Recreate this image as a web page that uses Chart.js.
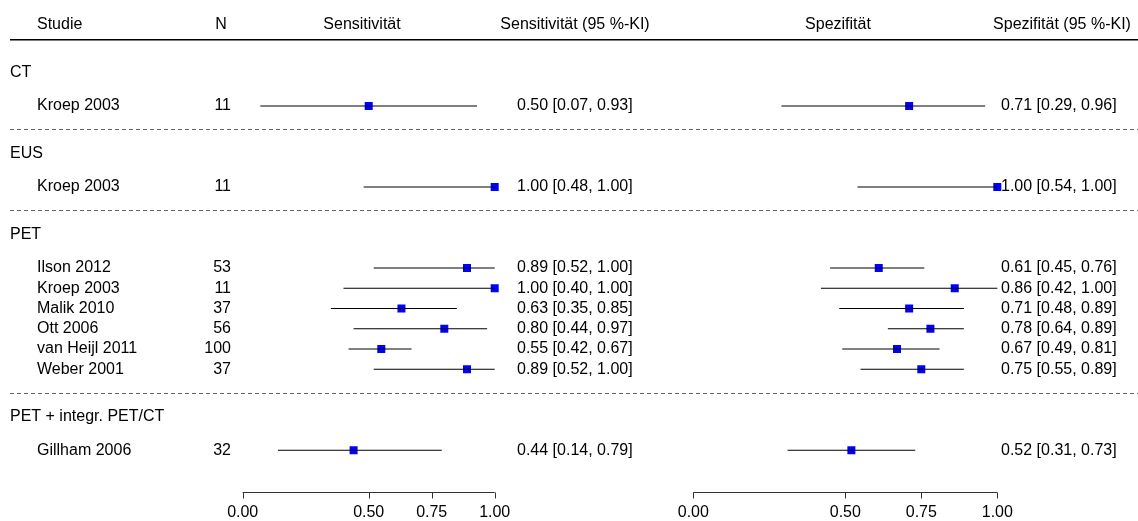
<!DOCTYPE html>
<html><head><meta charset="utf-8">
<script src="https://cdn.jsdelivr.net/npm/chart.js@4/dist/chart.umd.min.js"></script>
<style>html,body{margin:0;padding:0;background:#fff;overflow:hidden}#wrap{width:1138px;height:521px;position:relative}canvas{display:block}</style>
</head><body><div id="wrap"><canvas id="c" width="1138" height="521"></canvas></div>
<script>
// ---- data ----
const groupNames = ['CT', 'EUS', 'PET', 'PET + integr. PET/CT'];
const studyGroup = [0, 1, 2, 2, 2, 2, 2, 2, 3];
const studies = ['Kroep 2003', 'Kroep 2003', 'Ilson 2012', 'Kroep 2003', 'Malik 2010', 'Ott 2006', 'van Heijl 2011', 'Weber 2001', 'Gillham 2006'];
const nValues = [11, 11, 53, 11, 37, 56, 100, 37, 32];
const sens   = [0.50, 1.00, 0.89, 1.00, 0.63, 0.80, 0.55, 0.89, 0.44];
const sensLo = [0.07, 0.48, 0.52, 0.40, 0.35, 0.44, 0.42, 0.52, 0.14];
const sensHi = [0.93, 1.00, 1.00, 1.00, 0.85, 0.97, 0.67, 1.00, 0.79];
const spec   = [0.71, 1.00, 0.61, 0.86, 0.71, 0.78, 0.67, 0.75, 0.52];
const specLo = [0.29, 0.54, 0.45, 0.42, 0.48, 0.64, 0.49, 0.55, 0.31];
const specHi = [0.96, 1.00, 0.76, 1.00, 0.89, 0.89, 0.81, 0.89, 0.73];
const axisTicks = [0, 0.5, 0.75, 1];
const axisTickLabels = ['0.00', '0.50', '0.75', '1.00'];
const headers = ['Studie', 'N', 'Sensitivität', 'Sensitivität (95 %-KI)', 'Spezifität', 'Spezifität (95 %-KI)'];

// ---- layout (row units) ----
const GROUP_STEP = 4, LABEL_OFF = 1.65, DASH_OFF = 1.15, HLINE_OFF = 1.62, HTEXT_OFF = 2.35, AXIS_OFF = 2.05, TICKLBL_OFF = 3.1;
const ROW_PX = 20.25, FIRST_PX = 106;
const COL = {group: 10, study: 37, nRight: 231, nHead: 221, sensHead: 362, sensCIHead: 575, sensVal: 517, specHead: 838, specCIHead: 1062, specVal: 1001, lineL: 10, lineR: 1138};
const FONT = '16px "Liberation Sans", Arial, sans-serif';

const rows = [];
let u = 0;
studyGroup.forEach((g, i) => { if (i > 0) u += (g !== studyGroup[i - 1]) ? GROUP_STEP : 1; rows.push(u); });
const groupFirst = groupNames.map((_, g) => rows[studyGroup.indexOf(g)]);
const groupLast = groupNames.map((_, g) => rows[studyGroup.lastIndexOf(g)]);
const lastRow = rows[rows.length - 1];

const fmt = (v, lo, hi) => v.toFixed(2) + ' [' + lo.toFixed(2) + ', ' + hi.toFixed(2) + ']';

const datasets = [];
studies.forEach((s, i) => {
  datasets.push({data: [{x: sensLo[i], y: rows[i]}, {x: sensHi[i], y: rows[i]}], xAxisID: 'xs', showLine: true, borderColor: '#000', borderWidth: 1, pointRadius: 0});
  datasets.push({data: [{x: specLo[i], y: rows[i]}, {x: specHi[i], y: rows[i]}], xAxisID: 'xp', showLine: true, borderColor: '#000', borderWidth: 1, pointRadius: 0});
});
datasets.push({data: sens.map((v, i) => ({x: v, y: rows[i]})), xAxisID: 'xs', pointStyle: 'rect', pointRadius: 5.66, backgroundColor: '#0000ff', borderWidth: 0, showLine: false});
datasets.push({data: spec.map((v, i) => ({x: v, y: rows[i]})), xAxisID: 'xp', pointStyle: 'rect', pointRadius: 5.66, backgroundColor: '#0000ff', borderWidth: 0, showLine: false});

const W = 1138, H = 521;
const yMin = -FIRST_PX / ROW_PX, yMax = yMin + H / ROW_PX;
const sensPx0 = 242.7, sensPx1 = 494.7, specPx0 = 693.3, specPx1 = 997.3;
const sW = sensPx1 - sensPx0, pW = specPx1 - specPx0;

const decor = {
  id: 'decor',
  afterDatasetsDraw(chart) {
    const ctx = chart.ctx, ys = chart.scales.y, xs = chart.scales.xs, xp = chart.scales.xp;
    const Y = v => ys.getPixelForValue(v);
    ctx.save();
    ctx.font = FONT; ctx.fillStyle = '#000'; ctx.textBaseline = 'middle';
    // headers
    const hy = Y(groupFirst[0] - LABEL_OFF - HTEXT_OFF);
    ctx.textAlign = 'left'; ctx.fillText(headers[0], COL.study, hy);
    ctx.textAlign = 'center';
    ctx.fillText(headers[1], COL.nHead, hy);
    ctx.fillText(headers[2], COL.sensHead, hy);
    ctx.fillText(headers[3], COL.sensCIHead, hy);
    ctx.fillText(headers[4], COL.specHead, hy);
    ctx.fillText(headers[5], COL.specCIHead, hy);
    // header line
    const hl = Y(groupFirst[0] - LABEL_OFF - HLINE_OFF);
    ctx.strokeStyle = '#000'; ctx.lineWidth = 1.5;
    ctx.beginPath(); ctx.moveTo(COL.lineL, hl); ctx.lineTo(COL.lineR, hl); ctx.stroke();
    // group labels and dashed separators
    ctx.textAlign = 'left';
    groupNames.forEach((g, k) => {
      ctx.fillText(g, COL.group, Y(groupFirst[k] - LABEL_OFF));
      if (k < groupNames.length - 1) {
        const dy = Math.round(Y(groupLast[k] + DASH_OFF)) + 0.5;
        ctx.save(); ctx.strokeStyle = '#666'; ctx.lineWidth = 1; ctx.setLineDash([4, 3]);
        ctx.beginPath(); ctx.moveTo(COL.lineL, dy); ctx.lineTo(COL.lineR, dy); ctx.stroke(); ctx.restore();
      }
    });
    // study rows
    studies.forEach((s, i) => {
      const y = Y(rows[i]);
      ctx.textAlign = 'left'; ctx.fillText(s, COL.study, y);
      ctx.textAlign = 'right'; ctx.fillText(String(nValues[i]), COL.nRight, y);
      ctx.textAlign = 'left';
      ctx.fillText(fmt(sens[i], sensLo[i], sensHi[i]), COL.sensVal, y);
      ctx.fillText(fmt(spec[i], specLo[i], specHi[i]), COL.specVal, y);
    });
    // axes
    const ay = Math.round(Y(lastRow + AXIS_OFF)) + 0.5, ty = Y(lastRow + TICKLBL_OFF);
    [xs, xp].forEach(sc => {
      ctx.strokeStyle = '#333'; ctx.lineWidth = 1;
      ctx.beginPath();
      ctx.moveTo(sc.getPixelForValue(axisTicks[0]), ay);
      ctx.lineTo(sc.getPixelForValue(axisTicks[axisTicks.length - 1]), ay);
      axisTicks.forEach(t => { const x = Math.round(sc.getPixelForValue(t)) + 0.5; ctx.moveTo(x, ay); ctx.lineTo(x, ay + 6); });
      ctx.stroke();
      ctx.textAlign = 'center';
      axisTicks.forEach((t, k) => ctx.fillText(axisTickLabels[k], sc.getPixelForValue(t), ty));
    });
    ctx.restore();
  }
};

new Chart(document.getElementById('c'), {
  type: 'scatter',
  data: {datasets},
  options: {
    responsive: false, animation: false, events: [],
    layout: {padding: 0, autoPadding: false},
    plugins: {legend: {display: false}, tooltip: {enabled: false}, title: {display: false}},
    scales: {
      xs: {type: 'linear', axis: 'x', position: 'bottom', display: false, min: -sensPx0 / sW, max: (W - sensPx0) / sW},
      xp: {type: 'linear', axis: 'x', position: 'bottom', display: false, min: -specPx0 / pW, max: (W - specPx0) / pW},
      y: {type: 'linear', display: false, reverse: true, min: yMin, max: yMax}
    }
  },
  plugins: [decor]
});
</script>
</body></html>
